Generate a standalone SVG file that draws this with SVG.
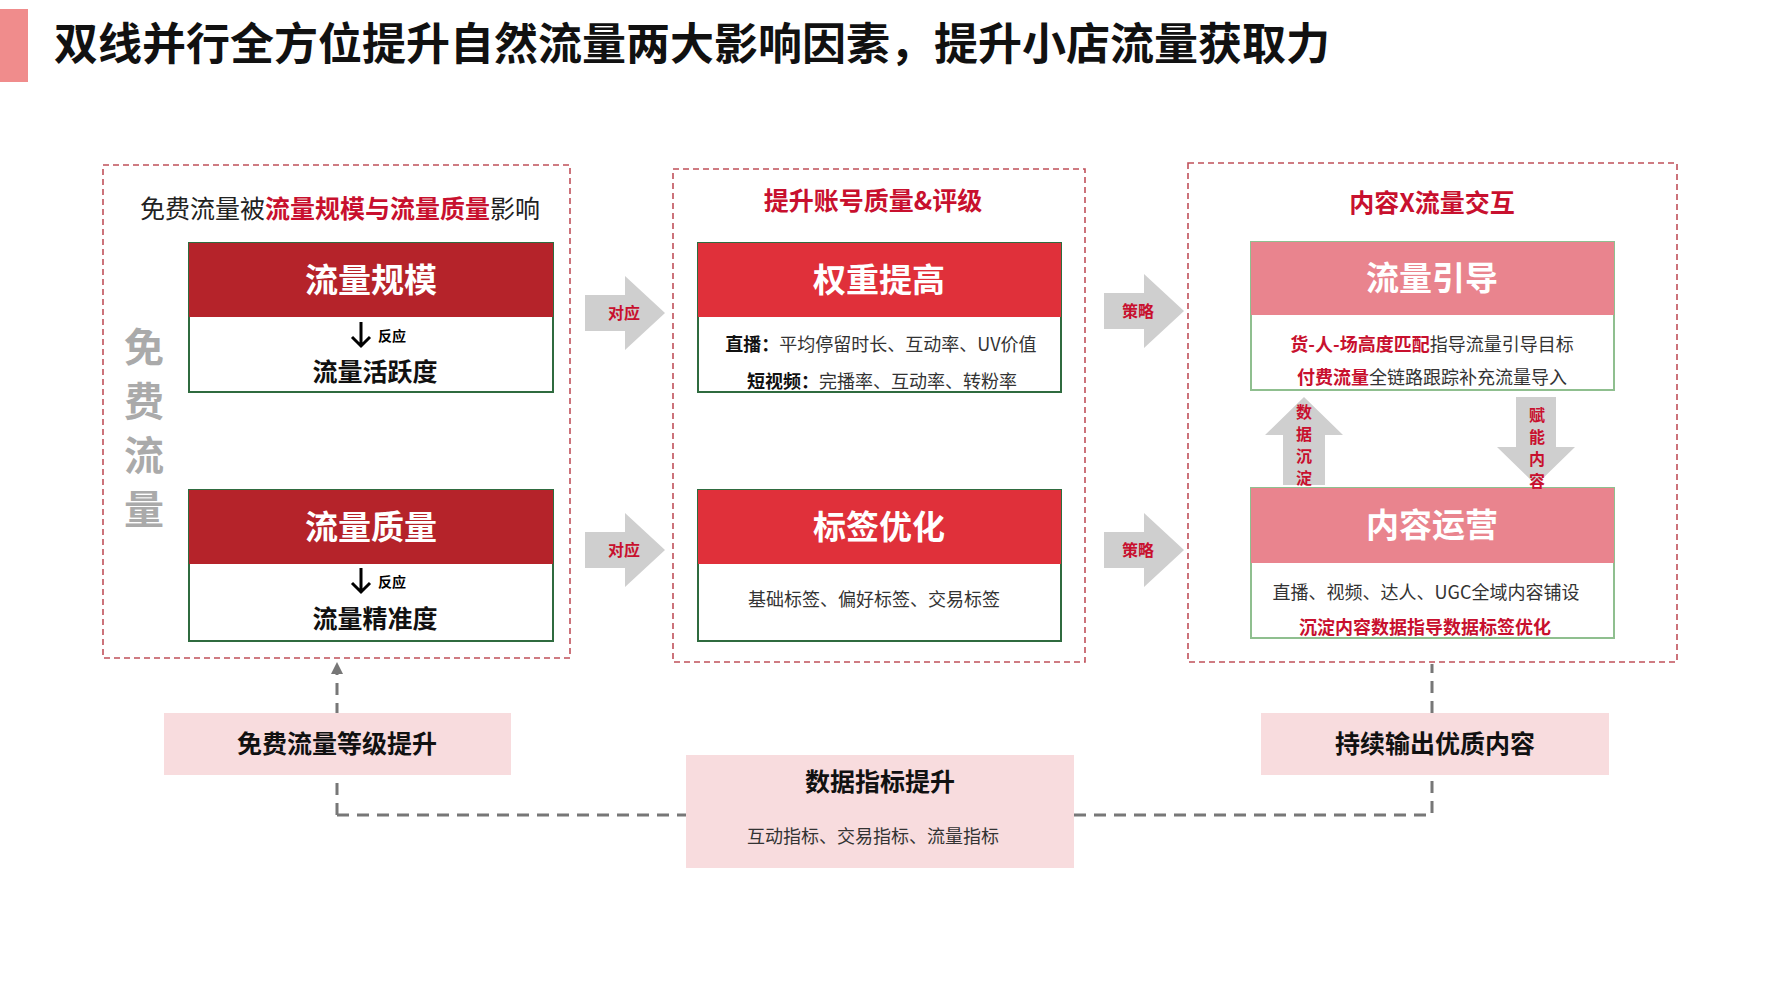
<svg xmlns="http://www.w3.org/2000/svg" width="1778" height="1000" viewBox="0 0 1778 1000">
<defs>
<style>
text{font-family:"Noto Sans CJK SC","Liberation Sans",sans-serif}
.dash{fill:none;stroke:#c0505a;stroke-width:1.6;stroke-dasharray:6 4}
.hd{fill:#fff;font-size:33px;font-weight:700;text-anchor:middle}
.body{fill:#fff;stroke:#2f6b3f;stroke-width:2}
.bodyp{fill:#fff;stroke:#8fbf8f;stroke-width:2}
.t{font-size:18px;fill:#333;text-anchor:middle}
.b{font-weight:700;fill:#111}
.r{fill:#c8102e;font-weight:700}
.ga{fill:#cfcfcf}
.al{font-size:16px;font-weight:700;fill:#c8102e;text-anchor:middle}
.conn{fill:none;stroke:#777;stroke-width:3;stroke-dasharray:12 8}
.pk{fill:#f8dcde}
</style>
<marker id="ah" viewBox="0 0 10 10" refX="5" refY="5" markerWidth="4" markerHeight="4" orient="auto"><path d="M0,0L10,5L0,10z" fill="#777"/></marker>
</defs>
<rect width="1778" height="1000" fill="#fff"/>
<rect x="0" y="9" width="28" height="73" fill="#f08c8c"/>
<text x="54" y="60" font-size="44" font-weight="700" fill="#111">双线并行全方位提升自然流量两大影响因素，提升小店流量获取力</text>

<g id="connectors">
<path class="conn" d="M337,815V668" marker-end="url(#ah)"/>
<path class="conn" d="M337,815H686M1074,815H1432V664"/>
</g>

<g id="left">
<rect class="dash" x="103" y="165" width="467" height="493"/>
<text x="340" y="218" font-size="25" text-anchor="middle" fill="#222">免费流量被<tspan class="r">流量规模与流量质量</tspan>影响</text>
<g font-size="40" font-weight="700" fill="#aaa" text-anchor="middle"><text x="144" y="362">免</text><text x="144" y="416">费</text><text x="144" y="470">流</text><text x="144" y="524">量</text></g>
</g>
<g id="n1">
<rect class="body" x="189" y="243" width="364" height="149"/>
<rect x="189" y="243" width="364" height="74" fill="#b5232a"/>
<text class="hd" x="371" y="292">流量规模</text>
<path d="M361,322v23M352,337l9,9 9,-9" stroke="#000" stroke-width="3" fill="none"/>
<text x="378" y="341" font-size="14" font-weight="700">反应</text>
<text x="375" y="381" font-size="25" font-weight="700" text-anchor="middle" fill="#111">流量活跃度</text>
</g>
<g id="n2">
<rect class="body" x="189" y="490" width="364" height="151"/>
<rect x="189" y="490" width="364" height="74" fill="#b5232a"/>
<text class="hd" x="371" y="539">流量质量</text>
<path d="M361,568v23M352,583l9,9 9,-9" stroke="#000" stroke-width="3" fill="none"/>
<text x="378" y="587" font-size="14" font-weight="700">反应</text>
<text x="375" y="628" font-size="25" font-weight="700" text-anchor="middle" fill="#111">流量精准度</text>
</g>

<g id="a1"><path class="ga" d="M585,295h40v-19l40,37 -40,37v-19h-40z"/><text class="al" x="624" y="319">对应</text></g>
<g id="a2"><path class="ga" d="M585,532h40v-19l40,37 -40,37v-19h-40z"/><text class="al" x="624" y="556">对应</text></g>

<g id="mid">
<rect class="dash" x="673" y="169" width="412" height="493"/>
<text x="873" y="210" font-size="25" font-weight="700" fill="#c8102e" text-anchor="middle">提升账号质量&amp;评级</text>
</g>
<g id="n3">
<rect class="body" x="698" y="243" width="363" height="149"/>
<rect x="698" y="243" width="363" height="74" fill="#e0303a"/>
<text class="hd" x="879" y="292">权重提高</text>
<text class="t" x="881" y="351"><tspan class="b">直播：</tspan>平均停留时长、互动率、UV价值</text>
<text class="t" x="882" y="388"><tspan class="b">短视频：</tspan>完播率、互动率、转粉率</text>
</g>
<g id="n4">
<rect class="body" x="698" y="490" width="363" height="151"/>
<rect x="698" y="490" width="363" height="74" fill="#e0303a"/>
<text class="hd" x="879" y="539">标签优化</text>
<text class="t" x="874" y="606">基础标签、偏好标签、交易标签</text>
</g>

<g id="a3"><path class="ga" d="M1104,293h40v-19l40,37 -40,37v-19h-40z"/><text class="al" x="1138" y="317">策略</text></g>
<g id="a4"><path class="ga" d="M1104,532h40v-19l40,37 -40,37v-19h-40z"/><text class="al" x="1138" y="556">策略</text></g>

<g id="right">
<rect class="dash" x="1188" y="163" width="489" height="499"/>
<text x="1432" y="212" font-size="25" font-weight="700" fill="#c8102e" text-anchor="middle">内容X流量交互</text>
</g>
<g id="n5">
<rect class="bodyp" x="1251" y="242" width="363" height="148"/>
<rect x="1251" y="242" width="363" height="73" fill="#e9848e"/>
<text class="hd" x="1432" y="290">流量引导</text>
<text class="t" x="1432" y="351"><tspan class="r">货-人-场高度匹配</tspan>指导流量引导目标</text>
<text class="t" x="1432" y="384"><tspan class="r">付费流量</tspan>全链路跟踪补充流量导入</text>
</g>
<g id="n6">
<rect class="bodyp" x="1251" y="488" width="363" height="150"/>
<rect x="1251" y="488" width="363" height="75" fill="#e9848e"/>
<text class="hd" x="1432" y="537">内容运营</text>
<text class="t" x="1426" y="599">直播、视频、达人、UGC全域内容铺设</text>
<text class="t r" x="1425" y="634">沉淀内容数据指导数据标签优化</text>
</g>
<g id="up"><path class="ga" d="M1283,485v-50h-18l39,-38 39,38h-18v50z"/>
<g class="al"><text x="1304" y="418">数</text><text x="1304" y="440">据</text><text x="1304" y="462">沉</text><text x="1304" y="484">淀</text></g></g>
<g id="down"><path class="ga" d="M1516,397v50h-19l39,38 39,-38h-19v-50z"/>
<g class="al"><text x="1537" y="421">赋</text><text x="1537" y="443">能</text><text x="1537" y="465">内</text><text x="1537" y="487">容</text></g></g>

<g id="b1"><rect class="pk" x="164" y="713" width="347" height="62"/><text x="337" y="753" font-size="25" font-weight="700" text-anchor="middle" fill="#111">免费流量等级提升</text></g>
<g id="b2"><rect class="pk" x="1261" y="713" width="348" height="62"/><text x="1435" y="753" font-size="25" font-weight="700" text-anchor="middle" fill="#111">持续输出优质内容</text></g>
<g id="b3"><rect class="pk" x="686" y="755" width="388" height="113"/><text x="880" y="791" font-size="25" font-weight="700" text-anchor="middle" fill="#111">数据指标提升</text><text class="t" x="873" y="843">互动指标、交易指标、流量指标</text></g>
</svg>
